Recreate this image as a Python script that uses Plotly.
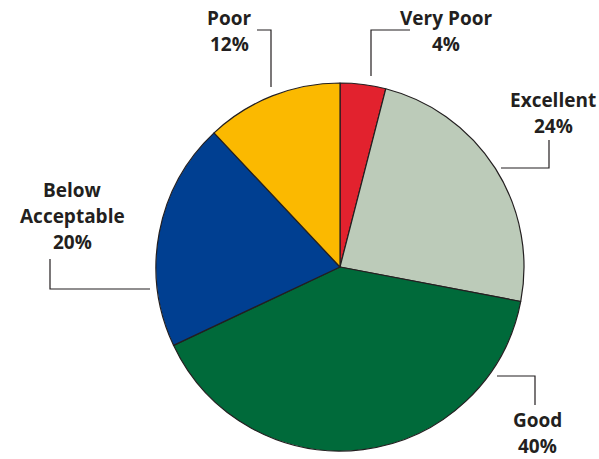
import plotly.graph_objects as go

labels = ["Very Poor", "Excellent", "Good", "Below Acceptable", "Poor"]
values = [4, 24, 40, 20, 12]
colors = ["#e2222e", "#bccbb9", "#006a3a", "#003f91", "#fbb900"]
label_lines = [["Very Poor", "4%"], ["Excellent", "24%"], ["Good", "40%"],
               ["Below", "Acceptable", "20%"], ["Poor", "12%"]]

W, H = 599, 459
def px(x): return x / W
def py(y): return 1 - y / H

fig = go.Figure(go.Pie(
    labels=labels, values=values, sort=False, direction="clockwise", rotation=0,
    marker=dict(colors=colors, line=dict(color="#231f20", width=1.2)),
    textinfo="none", hoverinfo="label+percent", showlegend=False,
    domain=dict(x=[px(156), px(524)], y=[py(451), py(83)]),
))

# label placement (pixels, centre of first line) and leader lines
label_pos = [(446, 18), (553, 100), (537, 420), (72, 190), (229, 18)]
line_gap = 26
leaders = [
    [(410, 30), (371, 30), (371, 76)],
    [(549, 140), (549, 168), (501, 168)],
    [(497, 376), (535, 376), (535, 405)],
    [(50, 259), (50, 289), (150, 289)],
    [(257, 30), (271, 30), (271, 87)],
]

annotations = []
shapes = []
for lines, (x, y) in zip(label_lines, label_pos):
    for i, t in enumerate(lines):
        annotations.append(dict(text="<b>" + t + "</b>", x=px(x), y=py(y + i * line_gap),
                                xref="paper", yref="paper",
                                showarrow=False, xanchor="center", yanchor="middle",
                                font=dict(family="Open Sans", size=19, color="#231f20")))
for pts in leaders:
    path = "M " + " L ".join(f"{px(a)},{py(b)}" for a, b in pts)
    shapes.append(dict(type="path", path=path, xref="paper", yref="paper",
                       line=dict(color="#231f20", width=1.2)))

fig.update_layout(width=W, height=H, margin=dict(l=0, r=0, t=0, b=0),
                  paper_bgcolor="white", plot_bgcolor="white",
                  annotations=annotations, shapes=shapes)
fig.write_html("out.html")
